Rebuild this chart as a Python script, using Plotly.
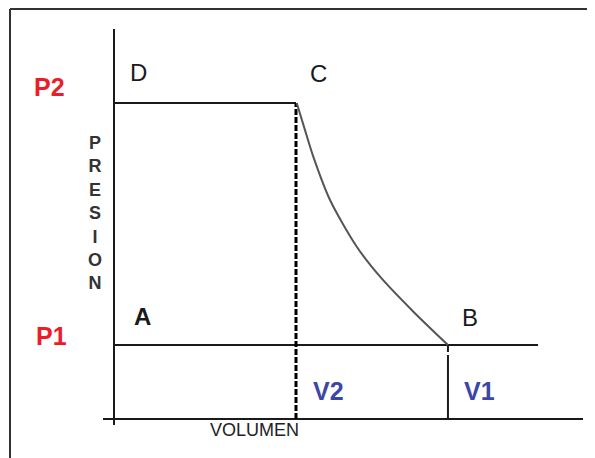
import plotly.graph_objects as go

# Schematic values (arbitrary units)
P1 = 1.0
P2 = 4.27
V2 = 1.0
V1 = 1.835
V_END = 2.33  # end of the P1 line

# C -> B expansion curve
curve_v = [1.004, 1.05, 1.095, 1.187, 1.334, 1.462, 1.645, 1.835]
curve_p = [4.27, 3.90, 3.545, 2.959, 2.328, 1.923, 1.450, 1.0]

point_labels = ["D", "C", "A", "B"]
point_v = [0.0, V2, 0.0, V1]
point_p = [P2, P2, P1, P1]

FONT = "Arial, Liberation Sans, sans-serif"
RED = "#ec1d2b"
BLUE = "#3b47a6"
INK = "#1a1a1a"

fig = go.Figure()

# D - C (constant pressure P2)
fig.add_trace(go.Scatter(x=[0, V2], y=[P2, P2], mode="lines",
                         line=dict(color=INK, width=2), hoverinfo="skip"))
# A - B (constant pressure P1), extended beyond B
fig.add_trace(go.Scatter(x=[0, V_END], y=[P1, P1], mode="lines",
                         line=dict(color=INK, width=2), hoverinfo="skip"))
# dashed vertical at V2
fig.add_trace(go.Scatter(x=[V2, V2], y=[0, P2], mode="lines",
                         line=dict(color="#000", width=3, dash="6px,2px"), hoverinfo="skip"))
# solid vertical at V1 (with a small break just below P1)
fig.add_trace(go.Scatter(x=[V1, V1, None, V1, V1], y=[0, 0.865 * P1, None, 0.905 * P1, P1],
                         mode="lines", line=dict(color=INK, width=2), hoverinfo="skip"))
# curve C -> B
fig.add_trace(go.Scatter(x=curve_v, y=curve_p, mode="lines",
                         line=dict(color="#555", width=2, shape="spline", smoothing=0.8),
                         hoverinfo="skip"))

# point labels
shifts = {"D": (25, 31), "C": (23, 30), "A": (29, 29), "B": (22, 28)}
for lab, v, p in zip(point_labels, point_v, point_p):
    dx, dy = shifts[lab]
    fig.add_annotation(x=v, y=p, text=lab, showarrow=False, xshift=dx, yshift=dy,
                       font=dict(family=FONT, size=24, color=INK,
                                 weight="bold" if lab == "A" else "normal"))

# pressure labels
fig.add_annotation(xref="paper", x=-0.1125, xanchor="center", y=P2, yshift=16, text="<b>P2</b>",
                   showarrow=False, font=dict(family=FONT, size=25, color=RED))
fig.add_annotation(xref="paper", x=-0.107, xanchor="center", y=P1, yshift=9, text="<b>P1</b>",
                   showarrow=False, font=dict(family=FONT, size=25, color=RED))
# volume labels
fig.add_annotation(x=V2, y=0, xshift=33, yshift=28, text="<b>V2</b>", showarrow=False,
                   font=dict(family=FONT, size=25, color=BLUE))
fig.add_annotation(x=V1, y=0, xshift=32, yshift=28, text="<b>V1</b>", showarrow=False,
                   font=dict(family=FONT, size=25, color=BLUE))
# axis titles
fig.add_annotation(x=0, y=0, xshift=141, yshift=-11, text="VOLUMEN", showarrow=False,
                   font=dict(family=FONT, size=18, color="#222"))
fig.add_annotation(x=0, yref="paper", y=0.5366, yanchor="middle", xshift=-19,
                   text="<br>".join("PRESION"), showarrow=False,
                   font=dict(family=FONT, size=18, color="#333", weight="bold"))

# frame (top and left edges)
fig.add_shape(type="line", xref="paper", yref="paper", x0=-0.19375, x1=1.03, y0=1.0505, y1=1.0505,
              line=dict(color="#333", width=2))
fig.add_shape(type="line", xref="paper", yref="paper", x0=-0.19375, x1=-0.19375, y0=1.0505, y1=-0.09,
              line=dict(color="#333", width=2))

fig.update_layout(
    width=595, height=458,
    margin=dict(l=95, r=20, t=21, b=41),
    paper_bgcolor="white", plot_bgcolor="white",
    showlegend=False,
    xaxis=dict(range=[-0.0604, 2.577], showgrid=False, showticklabels=False, ticks="",
               zeroline=True, zerolinecolor=INK, zerolinewidth=2, showline=False, fixedrange=True),
    yaxis=dict(range=[-0.081, 5.27], showgrid=False, showticklabels=False, ticks="",
               zeroline=True, zerolinecolor=INK, zerolinewidth=2, showline=False, fixedrange=True),
)

fig.write_html("out.html")
